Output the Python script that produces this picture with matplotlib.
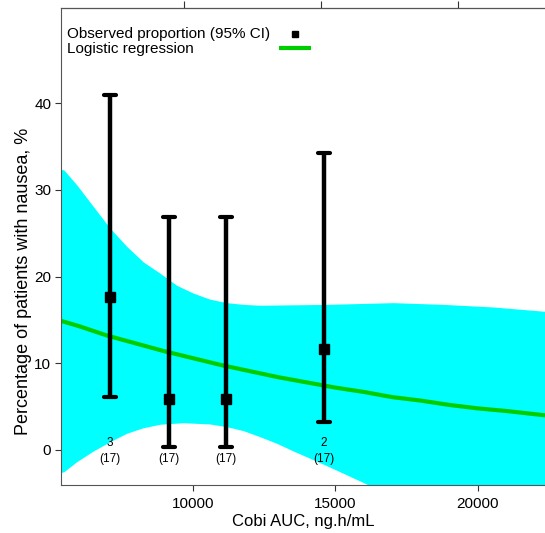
import matplotlib
matplotlib.use("Agg")
import matplotlib.pyplot as plt
from matplotlib.markers import MarkerStyle
import numpy as np

plt.rcParams['font.family'] = ['Liberation Sans', 'DejaVu Sans']

# observed proportions with 95% CI
obs_x = [7098, 9169, 11179, 14597]
obs_p = [17.6, 5.9, 5.9, 11.7]
obs_lo = [6.1, 0.3, 0.3, 3.2]
obs_hi = [41.0, 26.9, 26.9, 34.3]
n_events = ['3', '', '', '2']
n_total = ['(17)', '(17)', '(17)', '(17)']

# logistic regression fit
fit_x = [5379, 6000, 7000, 8000, 9000, 10000, 11000, 12000, 13000, 14000,
         15000, 16000, 17000, 18000, 19000, 20000, 21000, 22362]
fit_y = [14.9, 14.3, 13.2, 12.3, 11.4, 10.6, 9.8, 9.1, 8.4, 7.8,
         7.2, 6.7, 6.1, 5.7, 5.2, 4.8, 4.5, 4.0]

# confidence band
up_x = [5379, 5484, 5930, 6512, 7098, 7684, 8267, 8853, 9439, 10021, 10607,
        11193, 11776, 12362, 14702, 17039, 18794, 20548, 22362]
up_y = [32.4, 32.3, 30.6, 28.1, 25.6, 23.5, 21.7, 20.4, 19.0, 18.1, 17.4,
        17.0, 16.8, 16.7, 16.8, 17.0, 16.8, 16.5, 16.0]
lo_x = [5379, 5484, 5930, 6512, 7098, 7684, 8267, 8853, 9671, 10607, 11193,
        11776, 12362, 12948, 13531, 14116, 14702, 15285, 15871, 16222,
        17000, 18500, 20000, 22362]
lo_y = [-2.6, -2.5, -1.35, -0.12, 0.96, 1.93, 2.57, 2.97, 3.15, 3.0, 2.69,
        2.23, 1.53, 0.77, -0.12, -0.96, -1.81, -2.69, -3.58, -4.12,
        -5.0, -6.6, -8.0, -10.0]

fig = plt.figure(figsize=(5.45, 5.33), dpi=100)
ax = fig.add_axes([61/545, 48/533, 484/545, 477/533])

grid = np.linspace(5379, 22362, 600)
ax.fill_between(grid, np.interp(grid, lo_x, lo_y), np.interp(grid, up_x, up_y),
                color='#00FFFF', lw=0, zorder=1)
ax.plot(fit_x, fit_y, color='#00CD00', lw=3, zorder=2, solid_capstyle='butt')
eb = ax.errorbar(obs_x, obs_p,
                 yerr=[np.array(obs_p) - np.array(obs_lo), np.array(obs_hi) - np.array(obs_p)],
                 fmt='none', ecolor='black', elinewidth=3.2, capsize=4.3, capthick=3,
                 zorder=3)
for c in eb[1]:
    c.set_marker(MarkerStyle('_', capstyle='round'))
ax.plot(obs_x, obs_p, 's', color='black', ms=6.5, zorder=4, ls='none')

for x, a, b in zip(obs_x, n_events, n_total):
    ax.text(x, 0.77, a, ha='center', va='center', fontsize=8.5)
    ax.text(x, -1.07, b, ha='center', va='center', fontsize=8.5)

ax.set_xlim(5379, 22362)
ax.set_ylim(-4.04, 51.0)
ax.set_xticks([10000, 15000, 20000])
ax.set_yticks([0, 10, 20, 30, 40])
ax.tick_params(labelsize=11, length=4, width=0.8, color='#333333')
ax.tick_params(axis='x', pad=5)
ax.tick_params(axis='y', pad=3)
ax.spines['right'].set_visible(False)
for s in ['left', 'bottom', 'top']:
    ax.spines[s].set_color('#555555')
    ax.spines[s].set_linewidth(0.8)

top = ax.secondary_xaxis('top')
top.set_xticks([9695, 14502, 19310])
top.set_xticklabels([])
top.tick_params(length=5, width=0.8, color='#333333')

ax.set_xlabel('Cobi AUC, ng.h/mL', fontsize=12, labelpad=2)
ax.set_ylabel('Percentage of patients with nausea, %', fontsize=13)
ax.yaxis.set_label_coords(-0.06, 0.426)

# legend: text on the left, symbols on the right
ax.text(0.0124, 0.9455, 'Observed proportion (95% CI)', transform=ax.transAxes,
        fontsize=11, ha='left', va='center')
ax.text(0.0124, 0.914, 'Logistic regression', transform=ax.transAxes,
        fontsize=11, ha='left', va='center')
ax.plot([0.4835], [0.9455], 's', color='black', ms=5, transform=ax.transAxes,
        clip_on=False)
ax.plot([0.4504, 0.5165], [0.916, 0.916], color='#00CD00', lw=3,
        transform=ax.transAxes, solid_capstyle='butt')

fig.savefig('out.png', dpi=100)
